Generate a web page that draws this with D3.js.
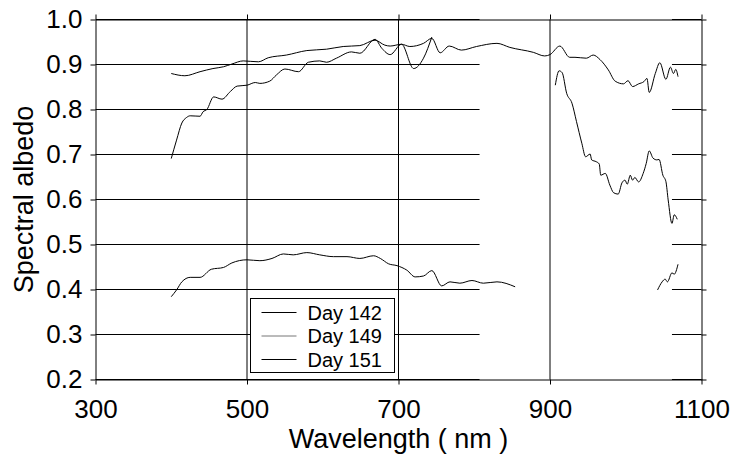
<!doctype html>
<html>
<head>
    <style>
        body { margin: 0; background: #fff; }
        svg { font-family: "Liberation Sans", Arial, sans-serif; }
        .curve { fill: none; stroke: #000; stroke-width: 1; }
        .grid { stroke: #000; stroke-width: 1; }
    </style>
    <script src="https://d3js.org/d3.v7.min.js"></script>
</head>
<body>
<svg id="svg" width="736" height="454"></svg>
<script>
// tick values
var xTicks = [300, 500, 700, 900, 1100];
var yTicks = [0.2, 0.3, 0.4, 0.5, 0.6, 0.7, 0.8, 0.9, 1.0];

// Day 142 (upper curve)
var day142Nm  = [400, 418, 438, 455, 469, 480, 495, 515, 528, 552, 579, 605, 627, 649, 669, 682, 689, 704, 715, 733, 744, 755, 767, 783, 803, 830, 847, 878, 893, 900, 913, 926, 933, 948, 957, 966, 977, 986, 997, 1003, 1009, 1017, 1024, 1028, 1031, 1039, 1045, 1053, 1059, 1063, 1066, 1069];
var day142Alb = [0.880, 0.875, 0.884, 0.891, 0.895, 0.901, 0.908, 0.906, 0.915, 0.921, 0.931, 0.934, 0.940, 0.942, 0.954, 0.943, 0.941, 0.945, 0.940, 0.947, 0.958, 0.926, 0.941, 0.932, 0.940, 0.947, 0.938, 0.927, 0.919, 0.922, 0.941, 0.916, 0.916, 0.914, 0.921, 0.911, 0.888, 0.863, 0.857, 0.864, 0.851, 0.857, 0.862, 0.869, 0.838, 0.880, 0.904, 0.867, 0.894, 0.880, 0.889, 0.873];

// Day 149 (middle curve, gap between 750 and 905 nm)
var day149Nm  = [400, 407, 414, 420, 425, 438, 442, 447, 456, 467, 478, 487, 500, 511, 517, 530, 539, 550, 568, 581, 596, 605, 618, 638, 649, 669, 678, 689, 704, 720, 733, 744, 800,
                 907, 912, 916, 922, 929, 935, 942, 947, 953, 955, 961, 965, 967, 973, 979, 984, 990, 995, 999, 1002, 1006, 1009, 1012, 1017, 1023, 1027, 1031, 1036, 1041, 1044, 1049, 1053, 1056, 1061, 1064, 1068];
var day149Alb = [0.691, 0.732, 0.770, 0.782, 0.786, 0.785, 0.795, 0.800, 0.828, 0.823, 0.840, 0.852, 0.854, 0.860, 0.858, 0.863, 0.877, 0.890, 0.884, 0.905, 0.908, 0.905, 0.914, 0.928, 0.925, 0.956, 0.936, 0.922, 0.945, 0.891, 0.914, 0.961, null,
                 0.854, 0.886, 0.882, 0.836, 0.814, 0.773, 0.725, 0.695, 0.701, 0.688, 0.684, 0.679, 0.654, 0.658, 0.632, 0.615, 0.612, 0.637, 0.643, 0.634, 0.654, 0.643, 0.649, 0.639, 0.658, 0.680, 0.708, 0.692, 0.688, 0.689, 0.654, 0.640, 0.599, 0.547, 0.566, 0.556];

// Day 151 (lower curve, gap between 854 and 1042 nm)
var day151Nm  = [400, 407, 414, 425, 438, 453, 469, 480, 500, 517, 533, 548, 561, 579, 596, 614, 632, 649, 667, 676, 687, 698, 711, 722, 733, 744, 757, 768, 781, 797, 812, 830, 854, 950,
                 1042, 1048, 1052, 1055, 1061, 1064, 1069];
var day151Alb = [0.384, 0.399, 0.417, 0.427, 0.427, 0.445, 0.449, 0.459, 0.466, 0.464, 0.469, 0.479, 0.477, 0.482, 0.477, 0.473, 0.473, 0.469, 0.475, 0.469, 0.457, 0.453, 0.443, 0.428, 0.430, 0.442, 0.408, 0.417, 0.414, 0.420, 0.414, 0.417, 0.406, null,
                 0.399, 0.417, 0.423, 0.417, 0.437, 0.434, 0.456];

var seriesNames = ["Day 142", "Day 149", "Day 151"];

var svg = d3.select("#svg");

var x = d3.scaleLinear().domain([300, 1100]).range([95.5, 701.5]),
    y = d3.scaleLinear().domain([0.2, 1.0]).range([379.5, 19.5]);

// horizontal grid, broken between ~807 and ~1061 nm like the original
var gridSpans = [[300, 807], [1061, 1100]];
yTicks.forEach(function(v) {
    gridSpans.forEach(function(s) {
        svg.append("line").attr("class", "grid")
           .attr("x1", x(s[0])).attr("x2", x(s[1]))
           .attr("y1", y(v)).attr("y2", y(v));
    });
});

// vertical grid
xTicks.slice(1, -1).forEach(function(v) {
    svg.append("line").attr("class", "grid")
       .attr("x1", x(v)).attr("x2", x(v))
       .attr("y1", y(0.2)).attr("y2", y(1.0));
});

// axes on all four sides
var fmt = d3.format(".1f");

var gLeft = svg.append("g").attr("transform", "translate(" + x(300) + ",0)")
    .call(d3.axisLeft(y).tickValues(yTicks).tickSize(5).tickSizeOuter(0).tickPadding(8).tickFormat(fmt));
var gRight = svg.append("g").attr("transform", "translate(" + x(1100) + ",0)")
    .call(d3.axisRight(y).tickValues(yTicks).tickSize(5).tickSizeOuter(0).tickFormat(""));
var gBottom = svg.append("g").attr("transform", "translate(0," + y(0.2) + ")")
    .call(d3.axisBottom(x).tickValues(xTicks).tickSize(5).tickSizeOuter(0).tickPadding(15).tickFormat(d3.format("d")));
var gTop = svg.append("g").attr("transform", "translate(0," + y(1.0) + ")")
    .call(d3.axisTop(x).tickValues(xTicks).tickSize(5).tickSizeOuter(0).tickFormat(""));

[gLeft, gRight, gBottom, gTop].forEach(function(g) {
    g.attr("font-family", null).attr("font-size", null);
    g.selectAll("path, line").attr("stroke", "#000");
    g.selectAll("text").attr("font-size", 26).attr("fill", "#000");
});

// curves
var line = d3.line()
    .defined(function(d) { return d[1] !== null; })
    .x(function(d) { return x(d[0]); })
    .y(function(d) { return y(d[1]); })
    .curve(d3.curveMonotoneX);

var series = [
    d3.zip(day142Nm, day142Alb),
    d3.zip(day149Nm, day149Alb),
    d3.zip(day151Nm, day151Alb)
];

svg.selectAll(".curve")
   .data(series)
   .enter().append("path")
   .attr("class", "curve")
   .attr("d", line);

// legend
var legend = svg.append("g").attr("transform", "translate(250.5,298.5)");
legend.append("rect")
      .attr("width", 144).attr("height", 74)
      .attr("fill", "#fff").attr("stroke", "#000").attr("stroke-width", 1);

var items = legend.selectAll(".item")
    .data(seriesNames)
    .enter().append("g")
    .attr("transform", function(d, i) { return "translate(0," + (14 + i * 23.5) + ")"; });

items.append("line")
     .attr("x1", 11).attr("x2", 46)
     .attr("stroke", function(d, i) { return i == 1 ? "#777" : "#000"; })
     .attr("stroke-width", 1);

items.append("text")
     .attr("x", 57).attr("dy", "0.35em")
     .attr("font-size", 20)
     .text(function(d) { return d; });

// axis titles
svg.append("text")
   .attr("x", (x(300) + x(1100)) / 2).attr("y", 448)
   .attr("text-anchor", "middle").attr("font-size", 27)
   .text("Wavelength ( nm )");

svg.append("text")
   .attr("transform", "translate(33," + (y(0.6)) + ") rotate(-90)")
   .attr("text-anchor", "middle").attr("font-size", 27)
   .text("Spectral albedo");
</script>
</body>
</html>
